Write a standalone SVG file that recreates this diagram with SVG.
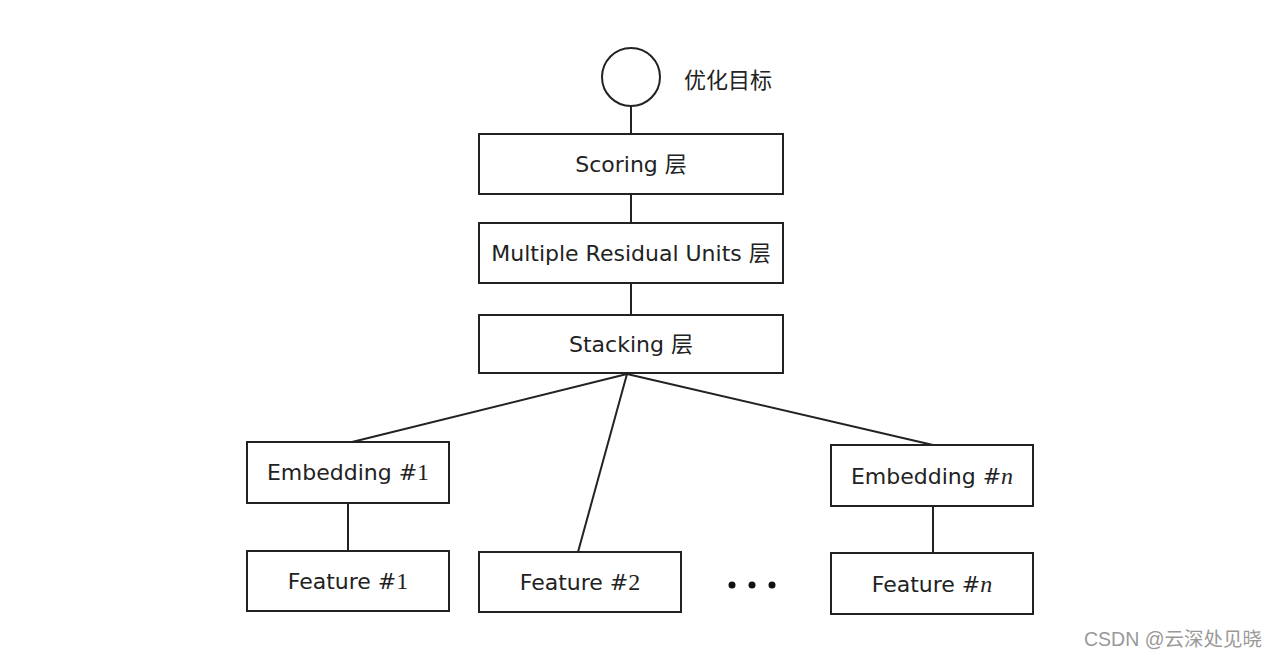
<svg xmlns="http://www.w3.org/2000/svg" width="1280" height="659" viewBox="0 0 1280 659">
<style>
.box{fill:#fff;stroke:#222;stroke-width:2}
.ln{stroke:#222;stroke-width:2;fill:none}
.t{font-family:"DejaVu Sans","Noto Sans CJK SC",sans-serif;font-size:22px;fill:#222;text-anchor:middle}
.s{font-family:"Liberation Serif",serif;font-size:24px}
.wm{font-family:"Liberation Sans","Noto Sans CJK SC",sans-serif;font-size:19.5px;fill:#999}
</style>
<rect width="1280" height="659" fill="#fff"/>
<g id="connectors">
<line class="ln" x1="631" y1="106" x2="631" y2="134"/>
<line class="ln" x1="631" y1="194" x2="631" y2="223"/>
<line class="ln" x1="631" y1="283" x2="631" y2="315"/>
<line class="ln" x1="627" y1="374" x2="352" y2="442"/>
<line class="ln" x1="627" y1="374" x2="578" y2="552"/>
<line class="ln" x1="627" y1="374" x2="933" y2="445"/>
<line class="ln" x1="348" y1="503" x2="348" y2="551"/>
<line class="ln" x1="933" y1="506" x2="933" y2="553"/>
</g>
<g id="objective">
<circle cx="631" cy="77" r="29" fill="#fff" stroke="#222" stroke-width="2"/>
<text x="684" y="88" style="font-family:'Noto Sans CJK SC',sans-serif;font-size:22px;fill:#222">优化目标</text>
</g>
<g id="scoring">
<rect class="box" x="479" y="134" width="304" height="60"/>
<text class="t" x="631" y="172">Scoring 层</text>
</g>
<g id="mru">
<rect class="box" x="479" y="223" width="304" height="60"/>
<text class="t" x="631" y="261">Multiple Residual Units 层</text>
</g>
<g id="stacking">
<rect class="box" x="479" y="315" width="304" height="58"/>
<text class="t" x="631" y="352">Stacking 层</text>
</g>
<g id="embedding1">
<rect class="box" x="247" y="442" width="202" height="61"/>
<text class="t" x="348" y="480">Embedding #<tspan class="s">1</tspan></text>
</g>
<g id="feature1">
<rect class="box" x="247" y="551" width="202" height="60"/>
<text class="t" x="348" y="589">Feature #<tspan class="s">1</tspan></text>
</g>
<g id="feature2">
<rect class="box" x="479" y="552" width="202" height="60"/>
<text class="t" x="580" y="590">Feature #<tspan class="s">2</tspan></text>
</g>
<g id="ellipsis">
<circle cx="732" cy="585" r="3.5" fill="#111"/>
<circle cx="752" cy="585" r="3.5" fill="#111"/>
<circle cx="772" cy="585" r="3.5" fill="#111"/>
</g>
<g id="embeddingn">
<rect class="box" x="831" y="445" width="202" height="61"/>
<text class="t" x="932" y="484">Embedding #<tspan class="s" font-style="italic">n</tspan></text>
</g>
<g id="featuren">
<rect class="box" x="831" y="553" width="202" height="61"/>
<text class="t" x="932" y="592">Feature #<tspan class="s" font-style="italic">n</tspan></text>
</g>
<text class="wm" x="1084" y="646">CSDN @云深处见晓</text>
</svg>
